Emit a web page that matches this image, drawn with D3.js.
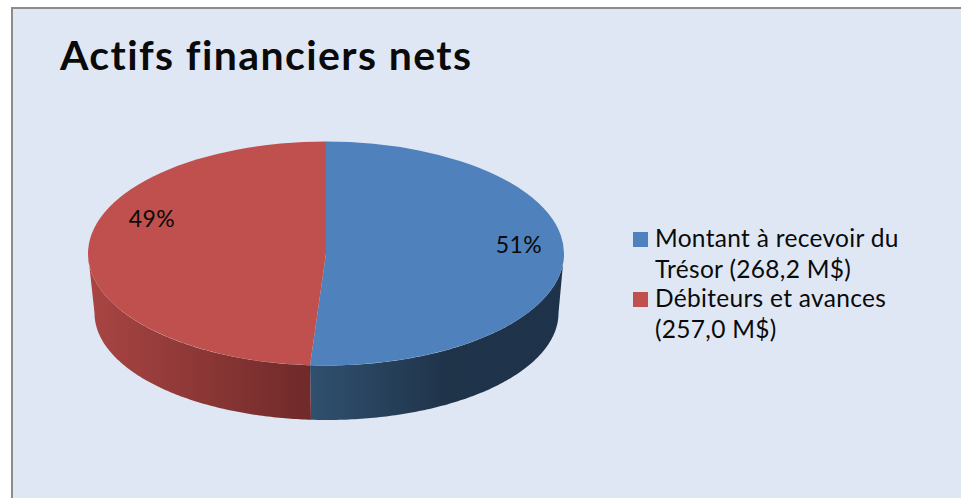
<!DOCTYPE html>
<html lang="fr">
<head>
<meta charset="utf-8">
<script src="https://cdn.jsdelivr.net/npm/d3@7/dist/d3.min.js"></script>
<style>
  html, body { margin: 0; padding: 0; background: #fff; }
  svg { display: block; }
  text { font-family: Lato, "Open Sans", sans-serif; fill: #0a0a0a; font-variant-ligatures: none; }
</style>
</head>
<body>
<svg id="chart" width="961" height="498"></svg>
<script>
const chartTitle = "Actifs financiers nets";
const categories = ["Montant à recevoir du Trésor", "Débiteurs et avances"];
const amounts = [268.2, 257.0];
const percentLabels = ["51%", "49%"];
const topColors = ["#4f81bd", "#c0504d"];
const wallStops = [
  [["0%", "#30506f"], ["55%", "#1f3349"], ["100%", "#1e3249"]],
  [["0%", "#a94543"], ["100%", "#6f2a29"]]
];
const legendLines = [
  ["Montant à recevoir du", "Trésor (268,2 M$)"],
  ["Débiteurs et avances", "(257,0 M$)"]
];

const svg = d3.select("#chart");
const width = 961, height = 498;

// Chart area: fills the page below and right of a grey frame line
svg.append("rect").attr("x", 12).attr("y", 8).attr("width", width).attr("height", height)
  .attr("fill", "#dfe7f4").attr("stroke", "#8c8c8c").attr("stroke-width", 2);

svg.append("text").attr("x", 60).attr("y", 70)
  .attr("font-size", 41).attr("font-weight", 700).attr("letter-spacing", 1.4).text(chartTitle);

// Tilted disc: top ellipse and a slightly smaller bottom ellipse give the perspective
const topEllipse = { cx: 326, cy: 253.5, rx: 238, ry: 112 };
const bottomEllipse = { cx: 326.5, cy: 313, rx: 232, ry: 107 };

const arcs = d3.pie().sort(null).value(d => d)(amounts);

const ellipsePoint = (e, a) => [e.cx + e.rx * Math.sin(a), e.cy - e.ry * Math.cos(a)];
const sweep = (a, b) => d3.range(0, 121).map(i => a + (b - a) * i / 120);
const line = d3.line();

const defs = svg.append("defs");
// Only the front half of the wall can be seen: angles between 90 and 270 degrees
const wallSpans = arcs.map(d => [Math.max(d.startAngle, Math.PI / 2), Math.min(d.endAngle, Math.PI * 1.5)]);

// Each wall gradient runs along x, left to right across its own slice
wallSpans.forEach(([a, b], i) => {
  defs.append("linearGradient").attr("id", `wall-${i}`)
    .attr("gradientUnits", "userSpaceOnUse")
    .attr("x1", ellipsePoint(topEllipse, b)[0]).attr("x2", ellipsePoint(topEllipse, a)[0])
    .attr("y1", 0).attr("y2", 0)
    .selectAll("stop").data(wallStops[i]).join("stop")
    .attr("offset", d => d[0]).attr("stop-color", d => d[1]);
});

svg.append("g").selectAll("path").data(wallSpans).join("path")
  .attr("fill", (d, i) => `url(#wall-${i})`)
  .attr("d", ([a, b]) => {
    const upper = sweep(a, b).map(t => ellipsePoint(topEllipse, t));
    const lower = sweep(b, a).map(t => ellipsePoint(bottomEllipse, t));
    return line(upper.concat(lower)) + "Z";
  });

// Top face, a d3 arc flattened into the ellipse
const arcGen = d3.arc().innerRadius(0).outerRadius(topEllipse.rx);
svg.append("g")
  .attr("transform", `translate(${topEllipse.cx},${topEllipse.cy}) scale(1,${topEllipse.ry / topEllipse.rx})`)
  .selectAll("path").data(arcs).join("path")
  .attr("d", arcGen)
  .attr("fill", (d, i) => topColors[i]);

// Percentage labels
const labelAnchors = [[519, 252.5], [152, 226.5]];
svg.append("g").selectAll("text").data(percentLabels).join("text")
  .attr("x", (d, i) => labelAnchors[i][0])
  .attr("y", (d, i) => labelAnchors[i][1])
  .attr("text-anchor", "middle").attr("font-size", 23).attr("letter-spacing", 0.4)
  .text(d => d);

// Legend
const legendRows = [{ swatch: 232, lines: [247, 278] }, { swatch: 292, lines: [307, 338] }];
const legend = svg.append("g").selectAll("g").data(legendRows).join("g");
legend.append("rect").attr("x", 633).attr("y", d => d.swatch)
  .attr("width", 15).attr("height", 15).attr("fill", (d, i) => topColors[i]);
legend.each(function (row, i) {
  d3.select(this).selectAll("text").data(legendLines[i]).join("text")
    .attr("x", 655).attr("y", (d, k) => row.lines[k])
    .attr("font-size", 24.5).attr("letter-spacing", 0.3).text(d => d);
});
</script>
</body>
</html>
